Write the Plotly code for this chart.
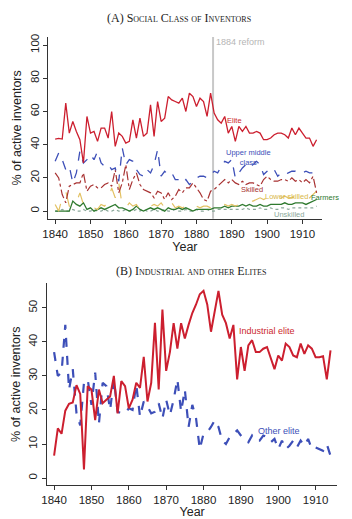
import plotly.graph_objects as go

years = list(range(1840, 1915))

elite = [43.4, 43.8, 43.4, 65, 47, 54, 48, 43, 29, 57,
         47, 48, 42, 50, 50, 44, 60, 39, 47, 45,
         41, 42, 55, 44, 56, 45, 47, 64, 45, 66,
         54, 56, 69, 67, 66, 65, 68, 60, 71, 69,
         63, 68, 66, 57, 71, 59, 55, 53, 57, 47,
         51, 42, 51, 48, 51, 47, 47, 48, 47, 43,
         43, 44, 46, 47, 47, 46, 44, 50, 46, 50,
         47, 44, 44, 39, 43]
upper_middle = [30, 35, 31, 25, 27, 17, 23, 36, 29, 31,
                34, 31, 36, 29, 27, 28, 25, 26, 18, 38,
                28, 31, 30, 25, 22, 21, 25, 23, 28, 37,
                21, 24, 22, 23, 19, 19, 17, 19, 16, 18,
                20, 21, 21, 20, 22, 24, 23, 27, 30, 29,
                31, 20, 23, 26, 28, 26, 28, 30, 28, 22,
                24, 26, 25, 21, 23, 22, 23, 24, 24, 23,
                23, 24, 23, 23, 20]
skilled = [23, 20, 10, 5, 15, 16, 17, 17, 23, 12,
           15, 16, 14, 14, 16, 17, 15, 25, 11, 17,
           28, 13, 19, 23, 16, 13, 12, 11, 8, 12,
           11, 7, 11, 7, 9, 13, 11, 14, 14, 17,
           14, 11, 7, 6, 12, 13, 15, 17, 19, 17,
           19, 17, 16, 18, 16, 17, 17, 16, 15, 19,
           21, 19, 18, 18, 19, 19, 18, 20, 18, 19,
           17, 19, 17, 21, 11]
lower_skilled = [4, 0, 8, 12, 3, 2, 5, 11, 4, 2,
                 3, 2, 1, 4, 3, 6, 14, 8, 17, 3,
                 2, 5, 3, 4, 1, 2, 3, 3, 4, 3,
                 5, 2, 1, 5, 2, 3, 2, 3, 1, 2,
                 3, 2, 3, 3, 2, 3, 2, 3, 4, 3,
                 4, 3, 4, 5, 5, 6, 6, 7, 8, 7,
                 8, 8, 8, 8, 8, 9, 8, 8, 9, 9,
                 9, 8, 8, 10, 12]
farmers = [0, 0, 0, 0, 0, 6, 4, 3, 5, 1,
           2, 0, 1, 2, 1, 2, 3, 4, 2, 2,
           1, 0, 1, 3, 1, 0, 1, 2, 1, 2,
           1, 0, 2, 1, 1, 2, 1, 2, 1, 0,
           1, 1, 1, 1, 1, 2, 2, 2, 3, 2,
           3, 3, 3, 4, 3, 4, 3, 3, 4, 3,
           3, 4, 4, 4, 4, 5, 4, 4, 5, 5,
           5, 4, 5, 6, 7]
unskilled = [0, 0, 1, 0, 0, 1, 0, 0, 1, 0,
             0, 1, 0, 0, 1, 0, 0, 1, 0, 0,
             1, 0, 0, 1, 0, 1, 0, 0, 1, 0,
             0, 1, 0, 0, 1, 0, 0, 1, 0, 0,
             1, 0, 0, 1, 0, 0, 1, 1, 1, 1,
             1, 1, 1, 1, 2, 1, 1, 1, 2, 1,
             1, 2, 1, 1, 2, 2, 1, 2, 2, 2,
             2, 2, 2, 2, 3]

industrial_elite = [6.6, 14.6, 13, 19.8, 21.8, 22.2, 27.3, 24.7, 2.5, 27,
                    26, 17, 26, 22, 23, 24, 30, 19, 28.5, 27,
                    20.5, 23, 28, 26.5, 35.6, 22.5, 28, 45.6, 26, 49.5,
                    31.5, 37, 45.5, 38, 45.5, 41, 45, 48.5, 51, 54,
                    55, 51, 43, 48.5, 55, 48, 45.5, 41, 45, 29,
                    38.5, 31.5, 39, 40.5, 37, 37, 38, 38.5, 35, 32,
                    36, 34.5, 39.5, 38.5, 36, 35.5, 39.5, 36.5, 39, 38,
                    35.5, 35.5, 35.8, 29, 37.5]
other_elite = [37, 30, 31, 45, 26, 32, 19, 15.5, 28, 29,
               21.5, 31, 16, 28, 27, 20, 29, 19.5, 19, 19,
               20.5, 20, 27.5, 18, 22.5, 21, 19, 19.5, 22, 17.5,
               23, 18.5, 23, 29, 19.5, 26, 15, 21.5, 17.5, 8.5,
               13, 13.5, 15, 17, 15, 11, 10, 12, 13, 14,
               12.5, 11, 10.5, 12.5, 11, 11, 12.5, 12, 10.5, 11.5,
               8.5, 11, 8.5, 9.5, 11, 9, 11, 9.5, 11.5, 8.5,
               9, 8.5, 8, 10, 6.5]

reform_year = 1884.7

RED = "#cc1f2f"
BLUE = "#3d4fb8"
SKRED = "#a83232"
GOLD = "#e3c264"
GREEN = "#2f7a2f"
GREYGREEN = "#8aa89a"

fig = go.Figure()

top_series = [
    ("Elite", elite, RED, "solid", 1.3),
    ("Upper middle class", upper_middle, BLUE, "dash", 1.3),
    ("Skilled", skilled, SKRED, "dashdot", 1.2),
    ("Lower skilled", lower_skilled, GOLD, "longdash", 1.2),
    ("Farmers", farmers, GREEN, "solid", 1.3),
    ("Unskilled", unskilled, GREYGREEN, "dot", 1.2),
]
for name, vals, col, dash, w in top_series[::-1]:
    fig.add_trace(go.Scatter(x=years, y=vals, mode="lines", name=name,
                             line=dict(color=col, dash=dash, width=w),
                             xaxis="x", yaxis="y", showlegend=False))

fig.add_trace(go.Scatter(x=years, y=other_elite, mode="lines", name="Other elite",
                         line=dict(color=BLUE, dash="dash", width=2.2),
                         xaxis="x2", yaxis="y2", showlegend=False))
fig.add_trace(go.Scatter(x=years, y=industrial_elite, mode="lines", name="Industrial elite",
                         line=dict(color=RED, width=2),
                         xaxis="x2", yaxis="y2", showlegend=False))

fig.add_shape(type="line", x0=reform_year, x1=reform_year, y0=0, y1=1,
              xref="x", yref="y domain", line=dict(color="#c8c8c8", width=2), layer="below")

def ann(text, x, y, col, xref="x", yref="y", xanchor="center", size=7.5):
    fig.add_annotation(text=text, x=x, y=y, xref=xref, yref=yref, showarrow=False,
                       xanchor=xanchor, yanchor="middle",
                       font=dict(family="Liberation Sans, Arial, sans-serif", size=size, color=col))

ann("1884 reform", 1885.1, 101.8, "#b5b5b5", xanchor="left", size=9)
ann("Elite", 1890.9, 54.7, RED)
ann("Upper middle<br>class", 1894.7, 32.5, BLUE)
ann("Skilled", 1895.6, 12.8, SKRED)
ann("Lower skilled", 1905.6, 8.6, "#d9b84a")
ann("Farmers", 325/352, 7.9, GREEN, xref="paper")
ann("Unskilled", 1906.2, -2.2, GREYGREEN)
ann("Industrial elite", 1897, 43.2, RED, xref="x2", yref="y2", size=9)
ann("Other elite", 1900.1, 13.7, BLUE, xref="x2", yref="y2", size=9)

tfont = dict(family="Liberation Serif, Times New Roman, serif", size=12, color="#222", variant="small-caps")
fig.add_annotation(text="(A) Social Class of Inventors", x=0.5, y=1 - 15/519, xref="paper", yref="paper",
                   showarrow=False, font=tfont, xanchor="center", yanchor="middle")
fig.add_annotation(text="(B) Industrial and other Elites", x=0.535, y=1 - 270/519, xref="paper", yref="paper",
                   showarrow=False, font=tfont, xanchor="center", yanchor="middle")

tickfont = dict(family="Liberation Sans, Arial, sans-serif", size=11.5, color="#222")
titlefont = dict(family="Liberation Sans, Arial, sans-serif", size=12.5, color="#222")
common_ax = dict(showline=True, linecolor="#333", linewidth=1, ticks="outside", ticklen=4,
                 tickcolor="#333", showgrid=False, zeroline=False, tickfont=tickfont,
                 mirror=False)

fig.update_layout(
    width=352, height=519, margin=dict(l=0, r=0, t=0, b=0),
    paper_bgcolor="white", plot_bgcolor="white",
    xaxis=dict(domain=[43/352, 321/352], range=[1838.05, 1915.4], anchor="y",
               tickvals=list(range(1840, 1911, 10)),
               title=dict(text="Year", font=titlefont, standoff=3), **common_ax),
    yaxis=dict(domain=[1 - 217/519, 1 - 34.3/519], range=[-4.6, 104.8], anchor="x",
               tickvals=[0, 20, 40, 60, 80, 100], tickangle=-90,
               title=dict(text="% of active inventors", font=titlefont, standoff=4), **common_ax),
    xaxis2=dict(domain=[41.7/352, 337/352], range=[1838.1, 1915.8], anchor="y2",
                tickvals=list(range(1840, 1911, 10)),
                title=dict(text="Year", font=titlefont, standoff=4), **common_ax),
    yaxis2=dict(domain=[1 - 485/519, 1 - 282/519], range=[-2.1, 57.2], anchor="x2",
                tickvals=[0, 10, 20, 30, 40, 50], tickangle=-90,
                title=dict(text="% of active inventors", font=titlefont, standoff=4), **common_ax),
)

fig.write_html("out.html")
